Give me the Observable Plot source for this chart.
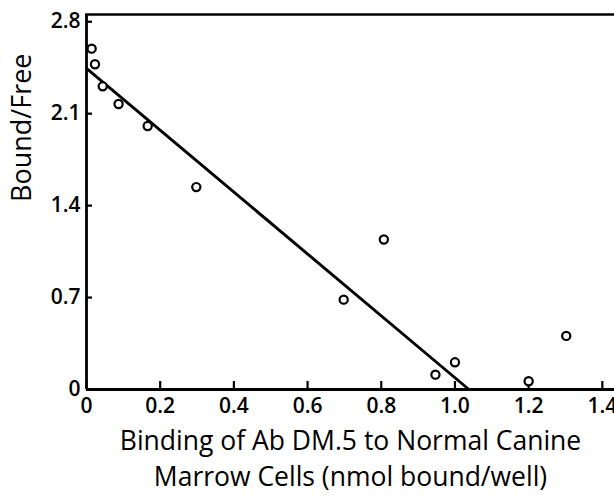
<!DOCTYPE html>
<html><head><meta charset="utf-8">
<script src="https://cdn.jsdelivr.net/npm/d3@7"></script>
<script src="https://cdn.jsdelivr.net/npm/@observablehq/plot@0.6"></script>
<style>html,body{margin:0;padding:0;background:#fff}</style>
</head><body><div id="chart"></div>
<script>
// Data (Scatchard plot)
const binding = [0.014, 0.023, 0.044, 0.087, 0.166, 0.298, 0.698, 0.807, 0.947, 1.0, 1.2, 1.302];
const boundFree = [2.595, 2.476, 2.308, 2.174, 2.006, 1.541, 0.684, 1.142, 0.113, 0.207, 0.063, 0.408];
const fitX = [0, 1.038];
const fitY = [2.445, 0];
const xTicks = [0, 0.2, 0.4, 0.6, 0.8, 1.0, 1.2, 1.4];
const xTickLabels = ["0", "0.2", "0.4", "0.6", "0.8", "1.0", "1.2", "1.4"];
const yTicks = [0, 0.7, 1.4, 2.1, 2.8];
const yTickLabels = ["0", "0.7", "1.4", "2.1", "2.8"];
const xDomain = [0, 1.433];
const yDomain = [0, 2.855];
const xTitle = ["Binding of Ab DM.5 to Normal Canine", "Marrow Cells (nmol bound/well)"];
const yTitle = "Bound/Free";

const points = binding.map((x, i) => ({x, y: boundFree[i]}));
const fit = fitX.map((x, i) => ({x, y: fitY[i]}));
const FONT = "'Open Sans', 'Noto Sans', sans-serif";

const chart = Plot.plot({
  width: 614,
  height: 495,
  marginLeft: 86,
  marginRight: 0,
  marginTop: 14,
  marginBottom: 106,
  style: {fontFamily: FONT, color: "#000", background: "#fff"},
  x: {domain: xDomain},
  y: {domain: yDomain},
  marks: [
    Plot.frame({anchor: "top", strokeWidth: 2.6}),
    Plot.axisX(xTicks, {tickSize: 0, tickPadding: 9, fontSize: 21, fontWeight: 600, tickFormat: (d) => xTickLabels[xTicks.indexOf(d)], label: null}),
    Plot.axisY(yTicks, {tickSize: 0, tickPadding: 6, fontSize: 21, fontWeight: 600, tickFormat: (d) => yTickLabels[yTicks.indexOf(d)], label: null}),
    Plot.tickX(xTicks, {x: d => d, frameAnchor: "bottom", insetTop: 367, strokeWidth: 2.2}),
    Plot.tickY(yTicks, {y: d => d, frameAnchor: "left", insetRight: 522, strokeWidth: 2.2}),
    Plot.ruleX([0], {strokeWidth: 2.8}),
    Plot.ruleY([0], {strokeWidth: 2.8}),
    Plot.line(fit, {x: "x", y: "y", strokeWidth: 2.9, stroke: "#000"}),
    Plot.dot(points, {x: "x", y: "y", r: 4.1, stroke: "#000", strokeWidth: 2.2, fill: "#fff"}),
    Plot.text([xTitle.join("\n")], {frameAnchor: "bottom", dy: 67, lineAnchor: "middle", lineHeight: 1.38, fontSize: 26.5, fill: "#000"}),
    Plot.text([yTitle], {frameAnchor: "left", rotate: -90, dx: -64, fontSize: 27, fill: "#000"})
  ]
});
document.getElementById("chart").appendChild(chart);
</script>
</body></html>
